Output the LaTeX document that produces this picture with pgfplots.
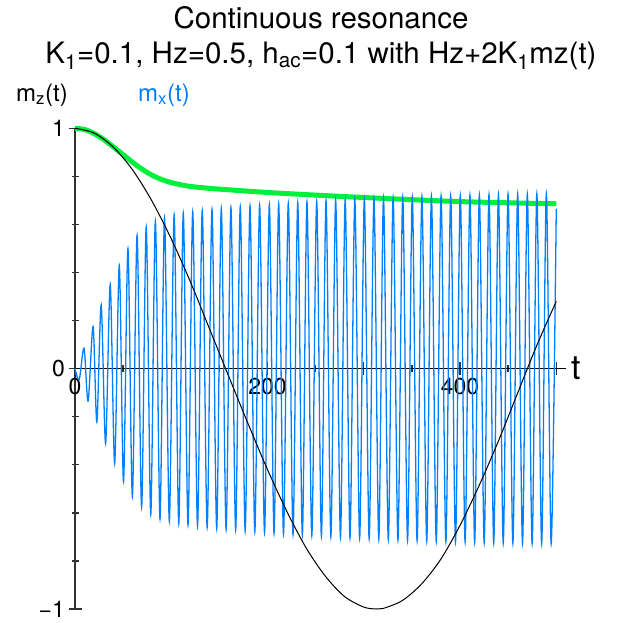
\documentclass[border=0pt]{standalone}
\usepackage{fontspec}
\setmainfont{TeX Gyre Heros}
\usepackage{pgfplots}
\pgfplotsset{compat=1.18}
\definecolor{mxblue}{RGB}{0,128,255}
\definecolor{mzgreen}{RGB}{0,240,60}
\definecolor{axgray}{RGB}{50,50,50}

\begin{document}
\begin{tikzpicture}
\begin{axis}[
    at={(0pt,0pt)}, anchor=south west, scale only axis,
    width=490.9pt, height=480.7pt,
    xmin=0, xmax=510, ymin=-1, ymax=1,
    enlargelimits=false, clip=false,
    axis x line=middle, axis y line=middle,
    x axis line style={-, line width=1.7pt, black},
    y axis line style={-, line width=1.7pt, axgray},
    xtick={0,100,200,300,400,500}, xticklabels={0,,200,,400,},
    minor xtick={50,150,250,350,450},
    ytick={-1,0,1}, yticklabels={−1,0,1},
    minor ytick={-0.8,-0.6,-0.4,-0.2,0.2,0.4,0.6,0.8},
    hide obscured x ticks=false, hide obscured y ticks=false,
    tick align=center,
    major tick length=13pt, minor tick length=7pt,
    every tick/.style={line width=1.4pt, axgray},
    tick label style={font=\fontsize{23}{23}\selectfont},
]
% m_z(t)
\addplot[mzgreen, line width=5pt, smooth] coordinates {
  (0,1.0) (10,0.995) (20,0.978) (30,0.953) (40,0.922) (50,0.89)
  (60,0.858) (70,0.829) (80,0.805) (90,0.787) (100,0.774) (110,0.765)
  (120,0.758) (140,0.75) (160,0.744) (200,0.733) (250,0.722) (300,0.712)
  (350,0.703) (400,0.695) (450,0.69) (500,0.686)};
% m_x(t), turning points
\addplot[mxblue, line width=1.3pt, smooth] coordinates {
  (0,0) (4.4,-0.045) (9.4,0.085) (13.6,-0.135) (18.8,0.175) (22.7,-0.222)
  (27.2,0.265) (31.8,-0.312) (36.6,0.35) (41.2,-0.395) (46.0,0.43)
  (50.4,-0.47) (55.0,0.50) (59.6,-0.532) (64.5,0.555) (69.2,-0.578)
  (74.0,0.59) (78.7,-0.607) (83.5,0.615) (88.3,-0.625) (93.0,0.628)
  (98.0,-0.635) (103.0,0.64) (107.8,-0.645) (112.5,0.647) (117.4,-0.65)
  (122.3,0.653) (127.3,-0.656) (132.2,0.658) (137.3,-0.66) (142.3,0.662)
  (147.2,-0.665) (152.0,0.667) (157.0,-0.669) (162.0,0.670) (166.9,-0.672)
  (171.7,0.674) (176.8,-0.676) (181.8,0.677) (186.8,-0.679) (191.8,0.68)
  (196.9,-0.682) (201.9,0.683) (206.8,-0.685) (211.6,0.686) (216.6,-0.688)
  (221.6,0.689) (226.5,-0.69) (231.4,0.691) (236.2,-0.693) (241.0,0.694)
  (246.0,-0.695) (251.1,0.696) (256.0,-0.698) (260.8,0.699) (265.8,-0.70)
  (270.8,0.701) (275.8,-0.702) (280.7,0.703) (285.7,-0.704) (290.7,0.705)
  (295.7,-0.706) (300.6,0.707) (305.6,-0.708) (310.6,0.709) (315.6,-0.71)
  (320.5,0.711) (325.5,-0.712) (330.5,0.712) (335.5,-0.713) (340.5,0.714)
  (345.5,-0.715) (350.4,0.715) (355.4,-0.716) (360.4,0.717) (365.4,-0.718)
  (370.3,0.718) (375.3,-0.719) (380.3,0.719) (385.3,-0.72) (390.3,0.72)
  (395.3,-0.721) (400.3,0.721) (405.3,-0.722) (410.3,0.722) (415.2,-0.723)
  (420.1,0.723) (425.1,-0.724) (430.1,0.724) (435.0,-0.725) (439.9,0.725)
  (444.9,-0.726) (449.9,0.726) (454.9,-0.727) (459.9,0.727) (464.9,-0.727)
  (469.9,0.727) (474.9,-0.728) (479.8,0.728) (484.8,-0.728) (489.7,0.728)
  (494.7,-0.729) (500.0,0.665)};
% black curve
\addplot[black, line width=1pt, smooth] coordinates {
  (0,1.0) (20,0.98) (40,0.921) (60,0.826) (80,0.697) (100,0.54)
  (120,0.36) (140,0.163) (160,-0.035) (180,-0.231) (200,-0.42)
  (220,-0.593) (240,-0.745) (260,-0.863) (280,-0.948) (300,-0.992)
  (313,-1.0) (320,-0.998) (340,-0.965) (360,-0.896) (380,-0.793)
  (400,-0.652) (420,-0.485) (440,-0.3) (460,-0.1) (480,0.099) (500,0.28)};
\node[anchor=west, font=\fontsize{34}{34}\selectfont] at (axis cs:512,0) {t};
\end{axis}
\node[font=\fontsize{29.5}{34}\selectfont] at (246pt,591pt) {Continuous resonance};
\node[font=\fontsize{29.5}{34}\selectfont] at (246pt,553pt)
  {K\textsubscript{1}=0.1, Hz=0.5, h\textsubscript{ac}=0.1 with Hz+2K\textsubscript{1}mz(t)};
\node[font=\fontsize{24}{28}\selectfont] at (-33pt,514pt) {m\textsubscript{z}(t)};
\node[font=\fontsize{24}{28}\selectfont, text=mxblue] at (89pt,514pt) {m\textsubscript{x}(t)};
\pgfresetboundingbox
\path[use as bounding box] (-75pt,-14pt) rectangle (543pt,609pt);
\end{tikzpicture}
\end{document}
